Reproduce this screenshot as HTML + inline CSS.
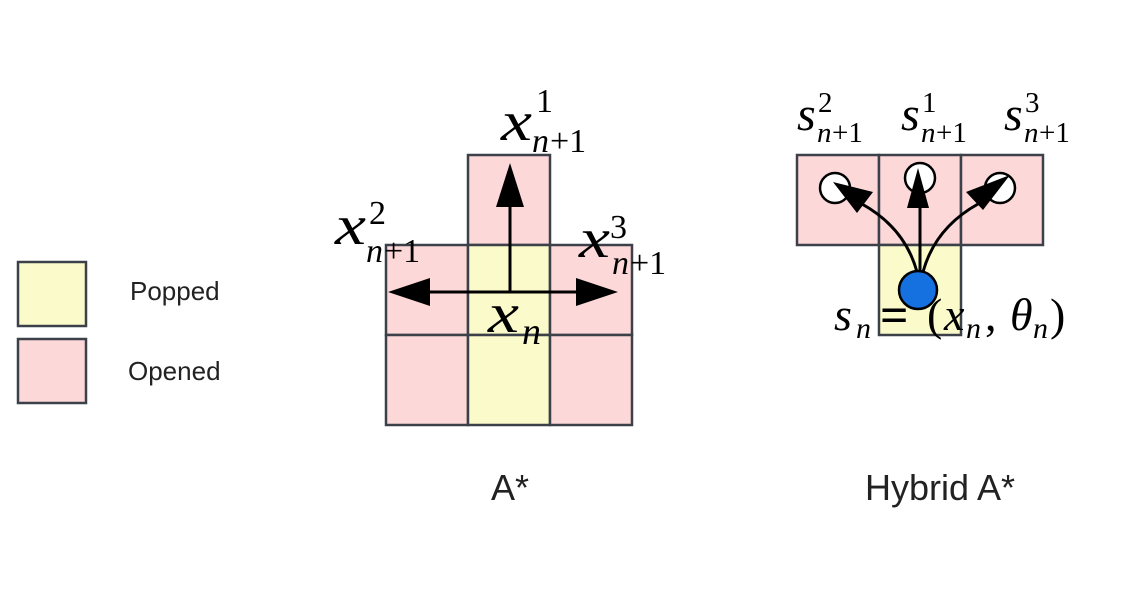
<!DOCTYPE html>
<html><head><meta charset="utf-8"><style>
html,body{margin:0;padding:0;background:#fff;}
svg{display:block;}
.m{font-family:"Liberation Serif",serif;font-style:italic;fill:#000;}
.r{font-family:"Liberation Serif",serif;fill:#000;}
.s{font-family:"Liberation Sans",sans-serif;fill:#222;}
</style></head><body>
<svg width="1131" height="603" viewBox="0 0 1131 603" xmlns="http://www.w3.org/2000/svg">
<g stroke="#3c4048" stroke-width="2.5">
<rect x="18" y="262" width="68" height="64" fill="#fbfacb"/>
<rect x="18" y="339" width="68" height="64" fill="#fdd8d9"/>
<rect x="468" y="155" width="82" height="90" fill="#fdd8d9"/>
<rect x="386" y="245" width="82" height="90" fill="#fdd8d9"/>
<rect x="468" y="245" width="82" height="90" fill="#fbfacb"/>
<rect x="550" y="245" width="82" height="90" fill="#fdd8d9"/>
<rect x="386" y="335" width="82" height="90" fill="#fdd8d9"/>
<rect x="468" y="335" width="82" height="90" fill="#fbfacb"/>
<rect x="550" y="335" width="82" height="90" fill="#fdd8d9"/>
<rect x="797" y="155" width="82" height="90" fill="#fdd8d9"/>
<rect x="879" y="155" width="82" height="90" fill="#fdd8d9"/>
<rect x="961" y="155" width="82" height="90" fill="#fdd8d9"/>
<rect x="879" y="245" width="82" height="90" fill="#fbfacb"/>
</g>
<text class="s" x="130" y="300" font-size="26">Popped</text>
<text class="s" x="128" y="380" font-size="26">Opened</text>
<g stroke="#000" stroke-width="3" fill="none">
<line x1="510" y1="292" x2="510" y2="205"/>
<line x1="510" y1="292" x2="430" y2="292"/>
<line x1="510" y1="292" x2="578" y2="292"/>
</g>
<polygon points="510,163 496,207 524,207" fill="#000"/>
<polygon points="388,292 430,278 430,306" fill="#000"/>
<polygon points="618,292 576,278 576,306" fill="#000"/>
<text class="m" x="501" y="140" font-size="56" textLength="31" lengthAdjust="spacingAndGlyphs">x</text>
<text class="r" x="536" y="112" font-size="34">1</text>
<text class="m" x="532" y="152" font-size="34">n</text><text class="r" x="550" y="152" font-size="34">+1</text>
<text class="m" x="335" y="244" font-size="56" textLength="31" lengthAdjust="spacingAndGlyphs">x</text>
<text class="r" x="369" y="224" font-size="34">2</text>
<text class="m" x="366" y="262" font-size="34">n</text><text class="r" x="384" y="262" font-size="34">+1</text>
<text class="m" x="579" y="257" font-size="56" textLength="31" lengthAdjust="spacingAndGlyphs">x</text>
<text class="r" x="610" y="238" font-size="34">3</text>
<text class="m" x="612" y="274" font-size="34">n</text><text class="r" x="630" y="274" font-size="34">+1</text>
<text class="m" x="488" y="332" font-size="56" textLength="31" lengthAdjust="spacingAndGlyphs">x</text>
<text class="m" x="522" y="344" font-size="38">n</text>
<g stroke="#000" stroke-width="2.5" fill="#fff">
<circle cx="835" cy="188" r="15"/>
<circle cx="920" cy="178" r="15"/>
<circle cx="1000" cy="188" r="15"/>
</g>
<g stroke="#000" stroke-width="3" fill="none">
<path d="M917,272 Q905,228 862,204"/>
<line x1="920" y1="272" x2="920" y2="205"/>
<path d="M923,272 Q935,228 978,204"/>
</g>
<polygon points="833,182 873,192 857,213" fill="#000"/>
<polygon points="918,168 907,208 929,208" fill="#000"/>
<polygon points="1010,175 966,192 983,210" fill="#000"/>
<circle cx="918" cy="290" r="19" fill="#1570e0" stroke="#000" stroke-width="2.5"/>
<text class="m" x="797" y="130" font-size="48">s</text>
<text class="r" x="818" y="112" font-size="29">2</text>
<text class="m" x="817" y="142" font-size="29">n</text><text class="r" x="832" y="142" font-size="29">+1</text>
<text class="m" x="901" y="130" font-size="48">s</text>
<text class="r" x="922" y="112" font-size="29">1</text>
<text class="m" x="921" y="142" font-size="29">n</text><text class="r" x="936" y="142" font-size="29">+1</text>
<text class="m" x="1004" y="130" font-size="48">s</text>
<text class="r" x="1025" y="112" font-size="29">3</text>
<text class="m" x="1024" y="142" font-size="29">n</text><text class="r" x="1039" y="142" font-size="29">+1</text>
<text class="m" x="834" y="330" font-size="46">s</text>
<text class="m" x="856" y="338" font-size="30">n</text>
<text class="r" x="880" y="332" font-size="50" font-weight="bold">=</text>
<text class="r" x="927" y="330" font-size="46">(</text>
<text class="m" x="944" y="330" font-size="46">x</text>
<text class="m" x="966" y="338" font-size="30">n</text>
<text class="r" x="985" y="330" font-size="46">,</text>
<text class="m" x="1010" y="330" font-size="46">θ</text>
<text class="m" x="1033" y="338" font-size="30">n</text>
<text class="r" x="1050" y="330" font-size="46">)</text>
<text class="s" x="510" y="500" font-size="36" text-anchor="middle">A*</text>
<text class="s" x="940" y="500" font-size="36" text-anchor="middle">Hybrid A*</text>
</svg>
</body></html>
